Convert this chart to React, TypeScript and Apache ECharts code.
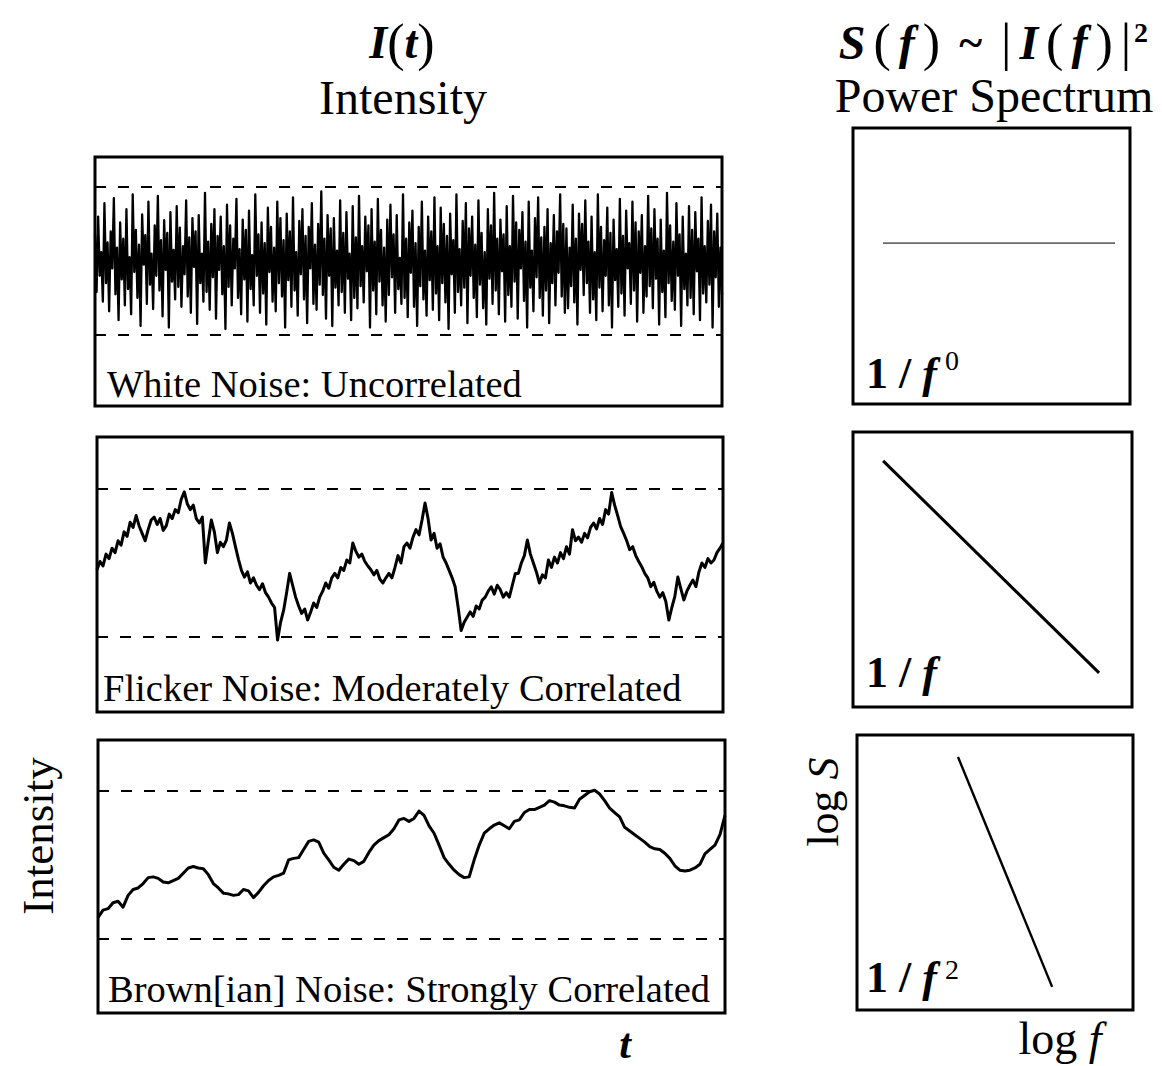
import React, { useEffect, useRef } from "react";
import * as echarts from "echarts";

// ---- Data (intensity scaled so that the dashed reference lines sit at ±1) ----
const whiteNoise = [
  0.35,-0.42,0.6,-0.2,0.12,-0.55,0.78,-0.3,0.25,-0.68,0.4,-0.1,0.85,-0.45,0.18,-0.8,0.52,-0.25,0.3,-0.6,
  0.7,-0.38,0.05,-0.72,0.9,-0.15,0.42,-0.5,0.22,-0.88,0.63,-0.05,0.35,-0.58,0.8,-0.32,0.1,-0.65,0.48,-0.2,
  0.88,-0.4,0.28,-0.75,0.55,-0.12,0.38,-0.9,0.66,-0.28,0.15,-0.52,0.74,-0.35,0.45,-0.62,0.2,-0.18,0.82,-0.48,
  0.32,-0.7,0.58,-0.08,0.4,-0.85,0.62,-0.3,0.1,-0.55,0.92,-0.42,0.26,-0.66,0.5,-0.22,0.7,-0.78,0.34,-0.12,
  0.6,-0.45,0.2,-0.92,0.76,-0.35,0.48,-0.6,0.3,-0.1,0.84,-0.5,0.16,-0.72,0.56,-0.25,0.42,-0.82,0.68,-0.38,
  0.08,-0.6,0.9,-0.2,0.36,-0.7,0.52,-0.44,0.24,-0.86,0.72,-0.15,0.46,-0.55,0.18,-0.68,0.8,-0.3,0.58,-0.48,
  0.28,-0.9,0.64,-0.26,0.4,-0.62,0.86,-0.4,0.12,-0.74,0.54,-0.18,0.7,-0.52,0.34,-0.84,0.46,-0.1,0.78,-0.58,
  0.22,-0.66,0.5,-0.32,0.94,-0.46,0.3,-0.78,0.62,-0.2,0.44,-0.88,0.58,-0.36,0.14,-0.6,0.82,-0.42,0.38,-0.7,
  0.66,-0.24,0.1,-0.8,0.74,-0.5,0.32,-0.64,0.88,-0.34,0.2,-0.56,0.6,-0.14,0.48,-0.9,0.7,-0.4,0.26,-0.72,
  0.84,-0.28,0.42,-0.6,0.18,-0.82,0.56,-0.46,0.76,-0.22,0.36,-0.7,0.62,-0.38,0.04,-0.58,0.9,-0.5,0.3,-0.76,
  0.52,-0.16,0.68,-0.62,0.24,-0.88,0.46,-0.34,0.8,-0.52,0.14,-0.74,0.6,-0.26,0.4,-0.66,0.86,-0.44,0.2,-0.8,
  0.72,-0.3,0.5,-0.56,0.34,-0.92,0.64,-0.18,0.28,-0.7,0.9,-0.42,0.16,-0.6,0.54,-0.36,0.78,-0.84,0.44,-0.2,
  0.6,-0.5,0.22,-0.76,0.82,-0.32,0.38,-0.64,0.12,-0.86,0.7,-0.24,0.48,-0.58,0.92,-0.4,0.3,-0.72,0.56,-0.14,
  0.36,-0.82,0.74,-0.46,0.2,-0.62,0.88,-0.28,0.52,-0.78,0.42,-0.1,0.66,-0.54,0.26,-0.9,0.8,-0.36,0.14,-0.68,
  0.58,-0.22,0.86,-0.5,0.32,-0.74,0.46,-0.4,0.7,-0.84,0.24,-0.3,0.62,-0.6,0.4,-0.16,0.9,-0.48,0.5,-0.7,
  0.44,-0.64,0.18,-0.34,0.76,-0.56,0.3,-0.86,0.64,-0.12,0.5,-0.46,0.82,-0.3,0.26,-0.7,0.6,-0.52,0.12,-0.8,
  0.9,-0.36,0.46,-0.68,0.28,-0.2,0.72,-0.6,0.38,-0.9,0.56,-0.26,0.16,-0.62,0.84,-0.44,0.34,-0.74,0.68,-0.1,
  0.24,-0.58,0.8,-0.4,0.52,-0.82,0.4,-0.16,0.62,-0.7,0.2,-0.48,0.88,-0.34,0.44,-0.64,0.7,-0.24,0.3,-0.86,
  0.56,-0.42,0.14,-0.76,0.92,-0.3,0.48,-0.54,0.26,-0.66,0.78,-0.2,0.36,-0.88,0.6,-0.38,0.1,-0.6,0.74,-0.5,
  0.42,-0.72,0.66,-0.14,0.3,-0.8,0.86,-0.44,0.2,-0.56,0.54,-0.32,0.76,-0.9,0.4,-0.22,0.64,-0.62,0.18,-0.46,
];

const flickerNoise = [
  -0.09,0.02,-0.04,0.12,0.06,0.2,0.14,0.3,0.24,0.42,
  0.36,0.55,0.48,0.64,0.5,0.4,0.3,0.45,0.58,0.62,
  0.52,0.6,0.44,0.5,0.66,0.6,0.72,0.68,0.86,0.96,
  0.8,0.72,0.78,0.6,0.54,0.62,0.0,0.3,0.58,0.42,
  0.14,0.28,0.22,0.31,0.54,0.4,0.22,0.05,-0.1,-0.19,
  -0.12,-0.27,-0.2,-0.3,-0.36,-0.28,-0.4,-0.46,-0.54,-0.6,
  -1.04,-0.8,-0.64,-0.4,-0.14,-0.3,-0.46,-0.58,-0.68,-0.62,
  -0.77,-0.66,-0.54,-0.6,-0.46,-0.38,-0.27,-0.34,-0.2,-0.14,
  -0.2,-0.06,-0.1,0.04,0.0,0.27,0.16,0.08,0.12,0.02,
  -0.04,-0.09,-0.16,-0.1,-0.22,-0.27,-0.2,-0.14,-0.2,-0.06,
  0.1,0.0,0.22,0.27,0.2,0.35,0.45,0.38,0.58,0.81,
  0.6,0.31,0.4,0.2,0.26,0.08,0.0,-0.1,-0.2,-0.32,
  -0.6,-0.91,-0.8,-0.73,-0.66,-0.72,-0.58,-0.62,-0.5,-0.46,
  -0.38,-0.32,-0.42,-0.3,-0.36,-0.46,-0.4,-0.46,-0.3,-0.14,
  -0.14,0.0,0.1,0.31,0.12,0.0,-0.12,-0.27,-0.16,-0.2,
  0.04,-0.06,0.08,0.0,0.14,0.06,0.22,0.12,0.45,0.3,
  0.35,0.28,0.4,0.34,0.48,0.54,0.46,0.6,0.52,0.72,
  0.66,0.95,0.78,0.64,0.49,0.4,0.3,0.18,0.22,0.1,
  0.02,-0.05,-0.14,-0.2,-0.32,-0.26,-0.38,-0.46,-0.4,-0.52,
  -0.77,-0.6,-0.45,-0.19,-0.35,-0.5,-0.38,-0.3,-0.23,-0.32,
  -0.12,0.0,-0.06,0.06,0.0,0.04,0.14,0.2,0.27,
];

const brownNoise = [
  -0.72,-0.62,-0.6,-0.52,-0.5,-0.58,-0.42,-0.34,-0.32,-0.26,
  -0.18,-0.17,-0.19,-0.24,-0.25,-0.22,-0.19,-0.12,-0.05,-0.03,
  -0.05,-0.06,-0.14,-0.26,-0.32,-0.39,-0.4,-0.42,-0.41,-0.34,
  -0.36,-0.45,-0.38,-0.29,-0.22,-0.17,-0.15,-0.12,0.06,0.08,
  0.09,0.2,0.31,0.33,0.3,0.15,0.06,-0.04,-0.08,0.0,
  0.07,0.05,0.0,0.04,0.16,0.26,0.32,0.36,0.4,0.48,
  0.6,0.62,0.58,0.62,0.72,0.66,0.52,0.42,0.26,0.09,
  0.0,-0.08,-0.14,-0.18,-0.17,0.06,0.26,0.42,0.48,0.53,
  0.56,0.52,0.48,0.58,0.6,0.7,0.74,0.74,0.77,0.8,
  0.86,0.84,0.8,0.79,0.77,0.76,0.88,0.93,0.98,1.0,
  0.95,0.86,0.76,0.7,0.64,0.5,0.45,0.4,0.35,0.3,
  0.24,0.21,0.2,0.15,0.08,-0.02,-0.08,-0.09,-0.08,-0.05,
  0.0,0.14,0.2,0.26,0.4,0.66,
];

// Power spectra on log–log axes (normalised 0..1 panel units)
const whiteLogF = [0.108, 0.946];
const whiteLogS = [0.583, 0.583];
const flickerLogF = [0.108, 0.882];
const flickerLogS = [0.895, 0.124];
const brownLogF = [0.366, 0.707];
const brownLogS = [0.92, 0.084];

const panelLabels = [
  "White Noise: Uncorrelated",
  "Flicker Noise: Moderately Correlated",
  "Brown[ian] Noise: Strongly Correlated",
];
const spectrumExponents = ["0", "", "2"];
const dashLevels = [1, -1];

const SERIF = '"Liberation Serif", "DejaVu Serif", "Times New Roman", serif';

export default function App() {
  const ref = useRef<HTMLDivElement>(null);

  useEffect(() => {
    document.body.style.margin = "0";
    const chart = echarts.init(ref.current!, undefined, { renderer: "svg" });

    const leftGrids = [
      { left: 95, top: 157, width: 627, height: 249 },
      { left: 97, top: 437, width: 626, height: 275 },
      { left: 98, top: 740, width: 627, height: 273 },
    ];
    const rightGrids = [
      { left: 853, top: 128, width: 277, height: 276 },
      { left: 853, top: 432, width: 279, height: 275 },
      { left: 857, top: 735, width: 276, height: 275 },
    ];
    const yRanges = [
      [-1.96, 1.405],
      [-2.01, 1.7],
      [-2.01, 1.68],
    ];
    const timeSeries = [whiteNoise, flickerNoise, brownNoise];
    const widths = [2.3, 3, 3];
    const spectra = [
      [whiteLogF, whiteLogS],
      [flickerLogF, flickerLogS],
      [brownLogF, brownLogS],
    ];
    const specColors = ["#6a6a6a", "#000", "#000"];
    const specWidths = [1.6, 3, 2.4];

    const grid: any[] = [];
    const xAxis: any[] = [];
    const yAxis: any[] = [];
    const series: any[] = [];

    leftGrids.forEach((g, i) => {
      grid.push({ ...g, show: true, borderColor: "#000", borderWidth: 3, containLabel: false });
      const data = timeSeries[i];
      xAxis.push({ type: "value", gridIndex: i, min: 0, max: data.length - 1, show: false });
      yAxis.push({ type: "value", gridIndex: i, min: yRanges[i][0], max: yRanges[i][1], show: false });
      series.push({
        type: "line",
        xAxisIndex: i,
        yAxisIndex: i,
        data: data.map((v, k) => [k, v]),
        showSymbol: false,
        lineStyle: { color: "#000", width: widths[i], join: "round" },
        markLine: {
          silent: true,
          symbol: ["none", "none"],
          label: { show: false },
          lineStyle: { color: "#000", width: 2, type: [11, 12] },
          data: dashLevels.map((d) => ({ yAxis: d })),
        },
      });
    });

    rightGrids.forEach((g, j) => {
      const i = j + 3;
      grid.push({ ...g, show: true, borderColor: "#000", borderWidth: 3, containLabel: false });
      xAxis.push({ type: "value", gridIndex: i, min: 0, max: 1, show: false });
      yAxis.push({ type: "value", gridIndex: i, min: 0, max: 1, show: false });
      const [lf, ls] = spectra[j];
      series.push({
        type: "line",
        xAxisIndex: i,
        yAxisIndex: i,
        data: lf.map((f, k) => [f, ls[k]]),
        showSymbol: false,
        lineStyle: { color: specColors[j], width: specWidths[j] },
      });
    });

    const labelYs = [384, 688, 989];
    const labelXs = [107, 103, 108];
    const fracYs = [373, 672, 977];
    const supYs = [360, 0, 969];

    const graphic: any[] = [];
    // Column titles
    graphic.push({
      type: "text",
      x: 402,
      y: 42,
      style: {
        text: "{b|I}{p|(}{b|t}{p|)}",
        align: "center",
        verticalAlign: "middle",
        fill: "#000",
        rich: {
          b: { fontFamily: SERIF, fontSize: 46, fontWeight: "bold", fontStyle: "italic", fill: "#000" },
          p: { fontFamily: SERIF, fontSize: 52, fill: "#000" },
        },
      },
    });
    graphic.push({
      type: "text",
      x: 403,
      y: 97,
      style: { text: "Intensity", fontFamily: SERIF, fontSize: 48, fill: "#000", align: "center", verticalAlign: "middle" },
    });
    const pad = [0, 4];
    graphic.push({
      type: "text",
      x: 985,
      y: 42,
      style: {
        text: "{b|S}{p|(}{b|f}{p|)}{t| ~ }{p||}{b|I}{p|(}{b|f}{p|)}{p||}",
        align: "center",
        verticalAlign: "middle",
        fill: "#000",
        rich: {
          b: { fontFamily: SERIF, fontSize: 48, fontWeight: "bold", fontStyle: "italic", fill: "#000", padding: pad },
          p: { fontFamily: SERIF, fontSize: 52, fill: "#000", padding: pad },
          t: { fontFamily: SERIF, fontSize: 44, fontWeight: "bold", fill: "#000", padding: pad },
        },
      },
    });
    graphic.push({
      type: "text",
      x: 1134,
      y: 32,
      style: { text: "2", fontFamily: SERIF, fontSize: 28, fontWeight: "bold", fill: "#000", align: "left", verticalAlign: "middle" },
    });
    graphic.push({
      type: "text",
      x: 994,
      y: 95,
      style: { text: "Power Spectrum", fontFamily: SERIF, fontSize: 48, fill: "#000", align: "center", verticalAlign: "middle" },
    });

    // Panel captions
    panelLabels.forEach((t, i) => {
      graphic.push({
        type: "text",
        x: labelXs[i],
        y: labelYs[i],
        style: { text: t, fontFamily: SERIF, fontSize: 38.5, fill: "#000", align: "left", verticalAlign: "middle" },
      });
    });

    // Spectrum labels 1/f^n
    spectrumExponents.forEach((e, i) => {
      graphic.push({
        type: "text",
        x: 866,
        y: fracYs[i],
        style: {
          text: "{n|1 / }{f|f}",
          align: "left",
          verticalAlign: "middle",
          rich: {
            n: { fontFamily: SERIF, fontSize: 44, fontWeight: "bold", fill: "#000" },
            f: { fontFamily: SERIF, fontSize: 44, fontWeight: "bold", fontStyle: "italic", fill: "#000" },
          },
        },
      });
      if (e) {
        graphic.push({
          type: "text",
          x: 945,
          y: supYs[i],
          style: { text: e, fontFamily: SERIF, fontSize: 28, fill: "#000", align: "left", verticalAlign: "middle" },
        });
      }
    });

    // Axis-like labels
    graphic.push({
      type: "text",
      x: 38,
      y: 836,
      rotation: Math.PI / 2,
      style: { text: "Intensity", fontFamily: SERIF, fontSize: 45, fill: "#000", align: "center", verticalAlign: "middle" },
    });
    graphic.push({
      type: "text",
      x: 823,
      y: 802,
      rotation: Math.PI / 2,
      style: {
        text: "{n|log }{i|S}",
        align: "center",
        verticalAlign: "middle",
        rich: {
          n: { fontFamily: SERIF, fontSize: 44, fill: "#000" },
          i: { fontFamily: SERIF, fontSize: 44, fontStyle: "italic", fill: "#000" },
        },
      },
    });
    graphic.push({
      type: "text",
      x: 1060,
      y: 1038,
      style: {
        text: "{n|log }{i|f}",
        align: "center",
        verticalAlign: "middle",
        rich: {
          n: { fontFamily: SERIF, fontSize: 46, fill: "#000" },
          i: { fontFamily: SERIF, fontSize: 46, fontStyle: "italic", fill: "#000" },
        },
      },
    });
    graphic.push({
      type: "text",
      x: 625,
      y: 1065,
      style: { text: "t", fontFamily: SERIF, fontSize: 42, fontWeight: "bold", fontStyle: "italic", fill: "#000", align: "center", verticalAlign: "bottom" },
    });

    chart.setOption({
      animation: false,
      backgroundColor: "#fff",
      grid,
      xAxis,
      yAxis,
      series,
      graphic,
    });

    return () => chart.dispose();
  }, []);

  return <div ref={ref} style={{ width: 1162, height: 1066 }} />;
}
